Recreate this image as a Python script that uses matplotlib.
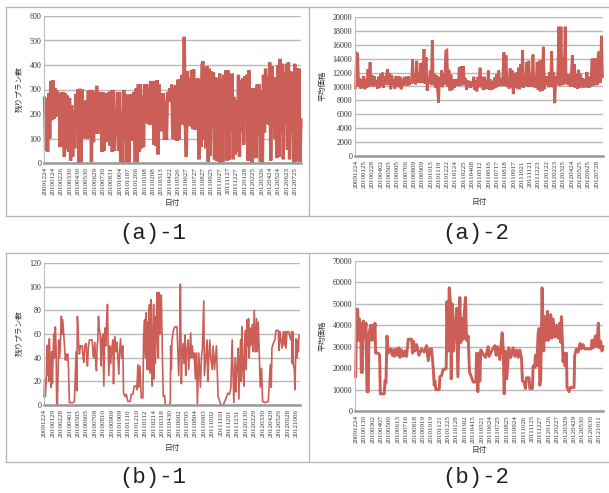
import matplotlib
matplotlib.use("Agg")
import matplotlib.pyplot as plt
from matplotlib.lines import Line2D

plt.rcParams['font.family'] = ['Liberation Serif', 'Noto Sans CJK JP', 'DejaVu Sans']

W, H = 609, 493
LINE = '#CB5F57'

# (a)-1: remaining plans, 8 samples per tick label
a1_vals = [
 265,50,265,45,285,100,335,175, 338,180,305,190,295,195,285,65,
 288,65,290,25,285,60,275,45, 265,10,235,25,215,60,280,170,
 300,0,303,0,300,100,250,105, 255,100,295,105,298,5,298,85,
 290,120,315,120,290,190,290,45, 290,50,255,85,285,100,290,70,
 295,45,298,50,220,115,290,50, 290,5,210,0,298,90,280,0,
 275,0,280,90,272,90,290,3, 305,3,322,45,320,60,275,65,
 322,165,322,160,300,155,335,190, 300,75,335,70,338,35,320,130,
 285,130,285,95,250,95,290,250, 305,260,320,100,310,95,318,90,
 340,95,340,215,360,155,515,155, 25,375,155,345,150,380,140,382,
 135,340,150,345,15,340,65,400, 415,95,390,60,395,5,385,30,
 375,150,370,15,350,10,345,5, 365,0,340,5,360,130,378,10,
 378,12,345,130,365,15,270,35, 255,45,360,25,338,130,345,75,
 355,185,360,10,378,10,305,0, 305,20,295,20,320,120,320,5,
 295,0,360,125,385,160,355,155, 410,10,395,150,350,100,330,20,
 400,25,425,120,405,15,370,160, 405,55,410,15,375,130,370,0,
 405,5,385,15,385,5,175]
a1_labels = ['20091224','20100124','20100226','20100330','20100430','20100530','20100629','20100730',
 '20100831','20101004','20101107','20101206','20110108','20110208','20110313','20110422','20110526',
 '20110627','20110727','20110827','20110925','20111027','20111127','20111227','20120128','20120225',
 '20120326','20120424','20120524','20120623','20120725']

# (a)-2: average price, 8 samples per tick label
a2_vals = [
 9800,14800,14700,10000,11200,9700,11000,9800, 11500,9600,11000,9800,12500,10000,13500,10200,
 11600,10000,11500,10200,10900,9700,11400,9800, 11800,10100,12000,9800,11500,10300,11800,12500,
 10200,11900,9600,11600,10200,11000,9700,11500, 10000,11500,9900,11400,9600,11000,10100,11400,
 10200,11400,10100,11500,10200,11000,10400,13900, 10500,11700,10300,13700,10600,11800,10500,13400,
 10500,11900,15400,10400,14200,9400,11200,10400, 12300,10200,16700,10300,11800,9800,11600,9800,
 7700,11400,10000,12300,9900,11800,10300,15100, 15200,10000,12400,9400,11700,9500,11000,9800,
 11000,10100,11000,10100,12800,10100,12900,10200, 12900,10200,11200,9500,10900,9900,10800,9800,
 10700,10000,11400,9500,10900,9300,11400,9900, 12700,9900,11400,9500,11400,9600,10900,9700,
 12300,9500,11000,9500,10800,9700,11300,9800, 11800,10000,12300,10100,11200,10100,11500,14900,
 10100,14500,10000,11300,9700,12600,9900,12300, 8900,11900,9800,12000,9700,12700,9600,13200,
 9900,15200,9800,11700,10100,13500,10000,13700, 10000,11300,10000,14600,9900,11000,9800,13500,
 9500,13700,9300,13800,9400,15700,9600,11500, 10200,11500,9900,12100,10000,15100,9900,12000,
 7600,11500,10200,12000,18600,10100,18600,10200, 14200,10300,18600,10400,11800,10200,11700,10000,
 11800,14500,10000,13200,9800,11700,9700,12400, 9800,11800,9900,11200,9800,11000,10000,12100,
 9800,11400,9900,11000,14000,10100,14000,10200, 14000,10200,14800,15000,10500,17300,11400]
a2_labels = ['20091224','20100125','20100228','20100402','20100505','20100605','20100706','20100809',
 '20100909','20101015','20101119','20101222','20110124','20110225','20110408','20110512','20110616',
 '20110717','20110818','20110917','20111021','20111121','20111223','20120122','20120223','20120325',
 '20120424','20120525','20120625','20120728']

# (b)-1: remaining plans, sample number and value
b1_idx = [
 0,2,4,7,9,11,13,15,16,18,
 21,23,25,29,31,34,36,38,40,44,
 46,48,52,54,56,59,64,66,68,71,
 73,76,88,91,96,98,100,103,106,109,
 114,117,119,122,126,128,130,133,136,144,
 147,149,152,154,157,159,161,163,165,168,
 170,171,173,176,179,182,185,187,190,192,
 194,197,199,202,206,208,210,212,215,218,
 221,224,226,229,232,236,238,243,246,251,
 258,261,266,270,276,278,281,284,287,291,
 296,298,301,303,304,306,308,310,312,314,
 316,318,320,322,324,326,328,329,331,333,
 336,338,340,342,344,346,348,351,355,357,
 361,363,374,378,379,381,383,387,391,398,
 400,403,406,408,411,413,416,419,422,424,
 427,431,433,436,439,441,444,446,449,453,
 456,459,463,468,471,474,478,480,484,488,
 490,493,496,499,503,506,510,516,521,526,
 529,536,541,550,555,559,563,568,572,574,
 577,581,583,588,590,592,595,598,600,603,
 605,608,610,612,614,617,619,623,626,629,
 632,636,638,641,644,647,651,654,661,671,
 677,680,682,686,691,694,701,703,706,712,
 716,719,722,724,727,732,738,741,743,744,
 746,749,751,754,757,760,761,763]
b1_vals = [
 7,22,7,22,50,25,51,20,56,
 30,15,45,18,60,40,66,50,0,0,
 55,40,45,75,60,72,60,38,43,38,
 43,33,2,2,3,45,12,75,55,43,
 50,50,40,36,50,52,40,33,50,55,
 55,42,40,53,40,29,50,55,75,65,
 60,40,33,55,60,16,65,50,68,85,
 50,25,50,35,45,55,18,45,58,45,
 53,40,26,45,56,40,50,10,7,9,
 3,3,9,9,16,16,13,34,15,33,
 6,6,58,72,45,40,78,30,70,30,
 80,85,27,89,40,16,60,85,22,75,
 35,60,95,60,40,95,60,80,93,30,
 7,8,0,0,2,50,30,55,63,66,
 66,50,25,50,102,18,40,52,35,59,
 25,45,55,30,45,61,40,50,40,44,
 22,44,1,44,15,40,48,88,25,40,
 55,20,40,55,40,30,50,30,50,7,
 3,0,0,3,10,9,14,55,2,40,
 11,30,48,5,55,20,66,30,16,50,
 63,30,72,50,73,40,65,50,68,45,
 80,45,73,45,70,45,15,31,3,2,
 3,34,15,48,52,55,63,63,46,62,
 48,62,50,62,48,62,62,55,62,35,
 62,35,30,13,56,40,55,45,59]
b1_labels = ['20091224','20100129','20100228','20100401','20100505','20100605','20100709','20100810',
 '20100909','20101009','20101110','20101210','20110112','20110214','20110318','20110430','20110602',
 '20110705','20110804','20110903','20111002','20111101','20111201','20111231','20120130','20120229',
 '20120330','20120429','20120529','20120628','20121006']

# (b)-2: average price, sample number and value
b2_idx = [
 2,5,8,10,13,15,17,19,22,25,
 29,33,36,40,42,47,50,54,57,60,
 62,70,74,76,88,90,93,96,100,108,
 112,115,118,123,127,132,135,140,145,150,
 155,160,170,173,176,180,185,192,200,208,
 215,220,225,230,235,238,240,243,253,255,
 260,265,272,274,276,280,283,287,289,292,
 296,300,305,309,315,318,322,325,328,332,
 335,340,344,347,355,363,365,369,373,375,
 378,385,392,396,400,403,410,420,424,428,
 435,442,445,448,452,456,462,468,475,480,
 485,490,495,500,503,508,512,515,523,525,
 533,535,540,542,546,550,553,555,558,562,
 567,570,574,578,582,588,591,595,600,605,
 610,615,618,620,623,625,628,631,635,637,
 643,647,658,660,665,670,676,680,685,690,
 710,712,716,722,726,731,734,738,742,745]
b2_vals = [
 16000,47500,47500,33000,43000,33000,41000,18000,18000,42000,
 34000,41000,9000,9000,36000,40000,33000,40000,33000,41000,
 27000,27000,26000,8000,8000,14000,13000,35000,27000,29000,
 26000,28500,25500,29000,26000,29500,25000,28500,25500,28000,
 25500,33500,33500,27000,32500,28000,31000,26000,29000,27500,
 30500,23500,29000,29000,20000,12000,14000,10000,10000,16000,
 16500,19500,19500,20000,51000,28000,57500,50000,15000,50000,
 28000,38000,48000,16000,53000,32000,43000,33500,45000,53000,
 33000,35000,18000,17000,13500,13500,27000,9000,27000,14000,
 28500,26500,25000,27500,30000,25500,28000,30500,26000,30000,
 24000,36500,30000,8000,28000,15000,29500,25000,29500,25500,
 28500,25000,28500,25000,14000,13500,10500,15500,15500,10500,
 10500,21000,20500,26000,21000,36000,38500,12000,15000,57500,
 28000,44000,33000,46500,33000,45000,34000,43000,34500,40000,
 34000,41000,32000,44000,33000,23000,27000,21000,27000,11000,
 9000,11000,11000,26000,29000,27500,31500,29000,31000,29000,
 29000,33000,29500,35000,30000,41000,29500,32500,28000,30000]
b2_labels = ['20091224','20100130','20100302','20100407','20100509','20100613','20100716','20100818',
 '20100919','20101019','20101121','20101225','20110128','20110302','20110415','20110521','20110624',
 '20110725','20110825','20110924','20111026','20111125','20111227','20120126','20120227','20120329',
 '20120429','20120530','20120630','20121011']

fig = plt.figure(figsize=(W / 100, H / 100), dpi=100, facecolor='white')


def make_axes(box, ymax, ystep, ylabel, labels, xlim, x0, step, ylab_x, ylab_y, xlab_x, xlab_y):
    l, t, r, b = box
    ax = fig.add_axes([l / W, 1 - b / H, (r - l) / W, (b - t) / H])
    ax.set_xlim(*xlim)
    ax.set_ylim(0, ymax)
    ax.set_yticks(range(0, ymax + 1, ystep))
    ax.set_xticks([x0 + i * step for i in range(len(labels))], labels, rotation=90)
    ax.tick_params(length=0, pad=2)
    ax.tick_params(axis='x', labelsize=5, labelcolor='#333333', pad=3)
    ax.tick_params(axis='y', labelsize=5.8, labelcolor='#333333')
    ax.grid(axis='y', color='#b8b8b8', lw=1)
    ax.set_axisbelow(True)
    for s in ('top', 'right'):
        ax.spines[s].set_visible(False)
    ax.spines['left'].set_color('#bbbbbb')
    ax.spines['left'].set_linewidth(0.8)
    ax.spines['bottom'].set_color('#999999')
    ax.spines['bottom'].set_linewidth(1.8)
    ax.set_ylabel(ylabel, fontsize=5.5, color='#333333', family=['Noto Sans CJK JP', 'DejaVu Sans'])
    ax.yaxis.set_label_coords(ylab_x / W, 1 - ylab_y / H, transform=fig.transFigure)
    ax.set_xlabel('日付', fontsize=5.5, color='#333333', family=['Noto Sans CJK JP', 'DejaVu Sans'])
    ax.xaxis.set_label_coords(xlab_x / W, 1 - xlab_y / H, transform=fig.transFigure)
    return ax


ax = make_axes((44, 16, 301, 163), 600, 100, '残りプラン数', a1_labels, (-0.5, 246), 0.3, 8, 24, 89, 172, 199)
ax.plot(range(len(a1_vals)), a1_vals, color=LINE, lw=2.4, solid_joinstyle='miter', clip_on=False)

ax = make_axes((355, 17, 603, 156), 20000, 2000, '平均価格', a2_labels, (-0.5, 238.5), 0.5, 8, 327, 86, 479, 198)
ax.plot(range(len(a2_vals)), a2_vals, color=LINE, lw=2.0, solid_joinstyle='miter', clip_on=False)

ax = make_axes((44, 263, 300, 405), 120, 20, '残りプラン数', b1_labels, (0, 766), 2, 25.1, 24, 333, 172, 444)
ax.plot(b1_idx, b1_vals, color=LINE, lw=1.2, clip_on=False)

ax = make_axes((355, 261, 603, 411), 70000, 10000, '平均価格', b2_labels, (0, 745), 3, 25.2, 327, 336, 479, 446)
ax.plot(b2_idx, b2_vals, color=LINE, lw=2.1, clip_on=False)

# panel frames
for x0, x1, y0, y1 in [(6, 609, 7, 7), (6, 609, 216, 216), (6, 609, 253, 253), (6, 609, 462, 462),
                       (6, 6, 7, 216), (6, 6, 253, 462), (309, 309, 7, 216), (309, 309, 253, 462)]:
    fig.add_artist(Line2D([x0 / W, x1 / W], [1 - y0 / H, 1 - y1 / H], color='#b5b5b5', lw=0.9))

for txt, x, y in [('(a)-1', 153, 233), ('(a)-2', 476, 233), ('(b)-1', 153, 478), ('(b)-2', 476, 478)]:
    fig.text(x / W, 1 - y / H, txt, family='Liberation Mono', fontsize=16, color='#222222', ha='center', va='center')

fig.savefig('out.png', dpi=100)
